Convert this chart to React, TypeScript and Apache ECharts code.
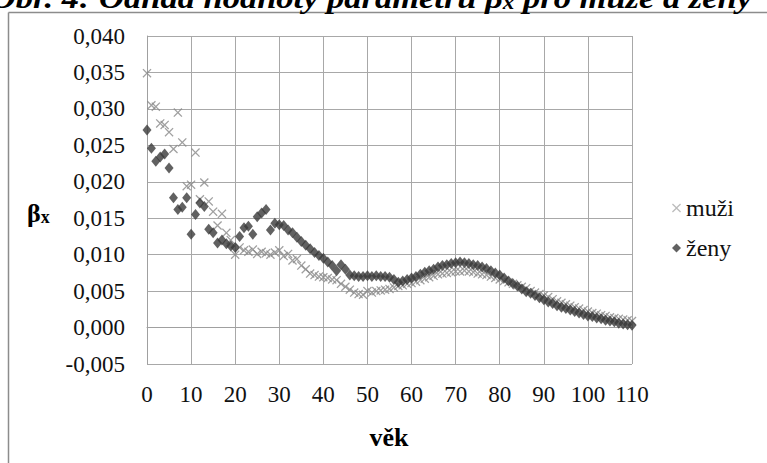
import React, { useEffect, useRef } from "react";
import * as echarts from "echarts";

// Age 0..110 (one value per age)
const ageStart = 0;
const muzi = [
  0.0349, 0.0305, 0.0303, 0.028, 0.0278, 0.0268, 0.0245, 0.0295, 0.0254, 0.0194,
  0.0196, 0.024, 0.0176, 0.0199, 0.0173, 0.0159, 0.014, 0.0156, 0.013, 0.012,
  0.01, 0.011, 0.0106, 0.0104, 0.0107, 0.0101, 0.0104, 0.0102, 0.01, 0.0103,
  0.0106, 0.0098, 0.0101, 0.0092, 0.0094, 0.0085, 0.008, 0.0074, 0.0072, 0.007,
  0.0069, 0.0068, 0.0066, 0.0065, 0.006, 0.0056, 0.0052, 0.0048, 0.0046, 0.0045,
  0.005, 0.0048, 0.005, 0.0051, 0.0052, 0.0053, 0.0055, 0.0057, 0.0058, 0.006,
  0.0061, 0.0063, 0.0065, 0.0067, 0.0069, 0.0071, 0.0073, 0.0074, 0.0075, 0.0076,
  0.0077, 0.0077, 0.0078, 0.0077, 0.0076, 0.0074, 0.0073, 0.0072, 0.007, 0.0068,
  0.0066, 0.0064, 0.0062, 0.006, 0.0058, 0.0056, 0.0054, 0.005, 0.0048, 0.0046,
  0.0044, 0.0042, 0.0039, 0.0036, 0.0034, 0.0032, 0.003, 0.0028, 0.0026, 0.0024,
  0.0022, 0.002, 0.0019, 0.0017, 0.0016, 0.0014, 0.0013, 0.0012, 0.0011, 0.001,
  0.0009,
];
const zeny = [
  0.0271, 0.0246, 0.0228, 0.0234, 0.0238, 0.0219, 0.0178, 0.0162, 0.0165, 0.0178,
  0.0128, 0.0155, 0.0171, 0.0166, 0.0135, 0.013, 0.0116, 0.012, 0.0115, 0.0112,
  0.011, 0.0125, 0.0137, 0.0139, 0.0128, 0.0152, 0.0157, 0.0162, 0.0134, 0.0143,
  0.0141, 0.014, 0.0134, 0.013, 0.0124, 0.0118, 0.0113, 0.0108, 0.0103, 0.0099,
  0.0095, 0.009, 0.0085, 0.0078, 0.0086, 0.008, 0.0072, 0.0071, 0.007, 0.007,
  0.0071, 0.007, 0.0071, 0.007, 0.007, 0.0069, 0.0066, 0.0062, 0.0064, 0.0066,
  0.0068, 0.007, 0.0073, 0.0076, 0.0078, 0.008, 0.0083, 0.0085, 0.0086, 0.0088,
  0.0089, 0.009, 0.0089, 0.0088, 0.0086, 0.0085, 0.0083, 0.0081, 0.0078, 0.0075,
  0.0072, 0.0068, 0.0064, 0.006, 0.0057, 0.0053, 0.0049, 0.0047, 0.0044, 0.0041,
  0.0038, 0.0035, 0.0033, 0.003, 0.0028, 0.0026, 0.0024, 0.0022, 0.002, 0.0018,
  0.0016, 0.0015, 0.0013, 0.0012, 0.001, 0.0009, 0.0008, 0.0006, 0.0005, 0.0004,
  0.0003,
];
const seriesNames = ["muži", "ženy"];
const titleText = ["Obr. 4: Odhad hodnoty parametru β", "x", " pro muže a ženy"];
const yAxisTitle = ["β", "x"];
const xAxisTitle = "věk";

const crossPath =
  "path://M1,0L5,4L9,0L10,1L6,5L10,9L9,10L5,6L1,10L0,9L4,5L0,1Z";
const FONT = "Liberation Serif";

export default function App() {
  const ref = useRef<HTMLDivElement>(null);
  useEffect(() => {
    if (!ref.current) return;
    const chart = echarts.init(ref.current, undefined, { renderer: "svg" });
    const toPairs = (arr: number[]) => arr.map((v, i) => [ageStart + i, v]);
    chart.setOption({
      animation: false,
      textStyle: { fontFamily: FONT },
      grid: { left: 147, right: 135, top: 36, bottom: 99, containLabel: false },
      xAxis: {
        type: "value",
        min: 0,
        max: 110,
        interval: 10,
        axisLine: { show: true, lineStyle: { color: "#a0a0a0", width: 1 } },
        axisTick: { show: false },
        splitLine: { show: true, lineStyle: { color: "#a8a8a8", width: 1 } },
        axisLabel: { color: "#111", fontFamily: FONT, fontSize: 23, margin: 19 },
      },
      yAxis: {
        type: "value",
        min: -0.005,
        max: 0.04,
        interval: 0.005,
        axisLine: { show: true, lineStyle: { color: "#a0a0a0", width: 1 } },
        axisTick: { show: false },
        splitLine: { show: true, lineStyle: { color: "#a8a8a8", width: 1 } },
        axisLabel: {
          color: "#111",
          fontFamily: FONT,
          fontSize: 23,
          margin: 22,
          formatter: (v: number) => v.toFixed(3).replace(".", ","),
        },
      },
      legend: {
        orient: "vertical",
        left: 667,
        top: 190,
        itemWidth: 9,
        itemHeight: 9,
        itemGap: 14,
        selectedMode: false,
        textStyle: { fontFamily: FONT, fontSize: 24, color: "#111", lineHeight: 26 },
        data: [
          { name: seriesNames[0], icon: crossPath, itemStyle: { color: "#aaaaaa" } },
          { name: seriesNames[1], icon: "diamond" },
        ],
      },
      series: [
        {
          name: seriesNames[0],
          type: "scatter",
          symbol: crossPath,
          symbolSize: 9,
          itemStyle: { color: "#888888" },
          data: toPairs(muzi),
        },
        {
          name: seriesNames[1],
          type: "scatter",
          symbol: "diamond",
          symbolSize: [9, 11],
          itemStyle: { color: "#3a3a3a" },
          data: toPairs(zeny),
        },
      ],
      graphic: [
        {
          type: "line",
          shape: { x1: 8.5, y1: 12.5, x2: 767, y2: 12.5 },
          style: { stroke: "#8c8c8c", lineWidth: 1.5 },
        },
        {
          type: "line",
          shape: { x1: 8.5, y1: 12.5, x2: 8.5, y2: 463 },
          style: { stroke: "#8c8c8c", lineWidth: 1.5 },
        },
        {
          type: "text",
          x: 752,
          y: -2,
          scaleX: 1.15,
          style: {
            text: `{a|${titleText[0]}}{s|${titleText[1]}}{a|${titleText[2]}}`,
            align: "right",
            verticalAlign: "middle",
            rich: {
              a: { fontFamily: FONT, fontSize: 30, fontWeight: "bold", fontStyle: "italic", fill: "#000", lineHeight: 30 },
              s: { fontFamily: FONT, fontSize: 20, fontWeight: "bold", fontStyle: "italic", fill: "#000", lineHeight: 30, verticalAlign: "bottom" },
            },
          },
        },
        {
          type: "text",
          x: 27,
          y: 213,
          style: {
            text: `{b|${yAxisTitle[0]}}{s|${yAxisTitle[1]}}`,
            align: "left",
            verticalAlign: "middle",
            rich: {
              b: { fontFamily: FONT, fontSize: 26, fontWeight: "bold", fill: "#000", lineHeight: 26 },
              s: { fontFamily: FONT, fontSize: 18, fontWeight: "bold", fill: "#000", lineHeight: 22, verticalAlign: "bottom" },
            },
          },
        },
        {
          type: "text",
          x: 389,
          y: 437,
          style: {
            text: xAxisTitle,
            align: "center",
            verticalAlign: "middle",
            fontFamily: FONT,
            fontSize: 26,
            fontWeight: "bold",
            fill: "#000",
          },
        },
      ],
    });
    return () => chart.dispose();
  }, []);
  return (
    <div
      ref={ref}
      style={{ position: "fixed", left: 0, top: 0, width: 767, height: 463, background: "#fff" }}
    />
  );
}
